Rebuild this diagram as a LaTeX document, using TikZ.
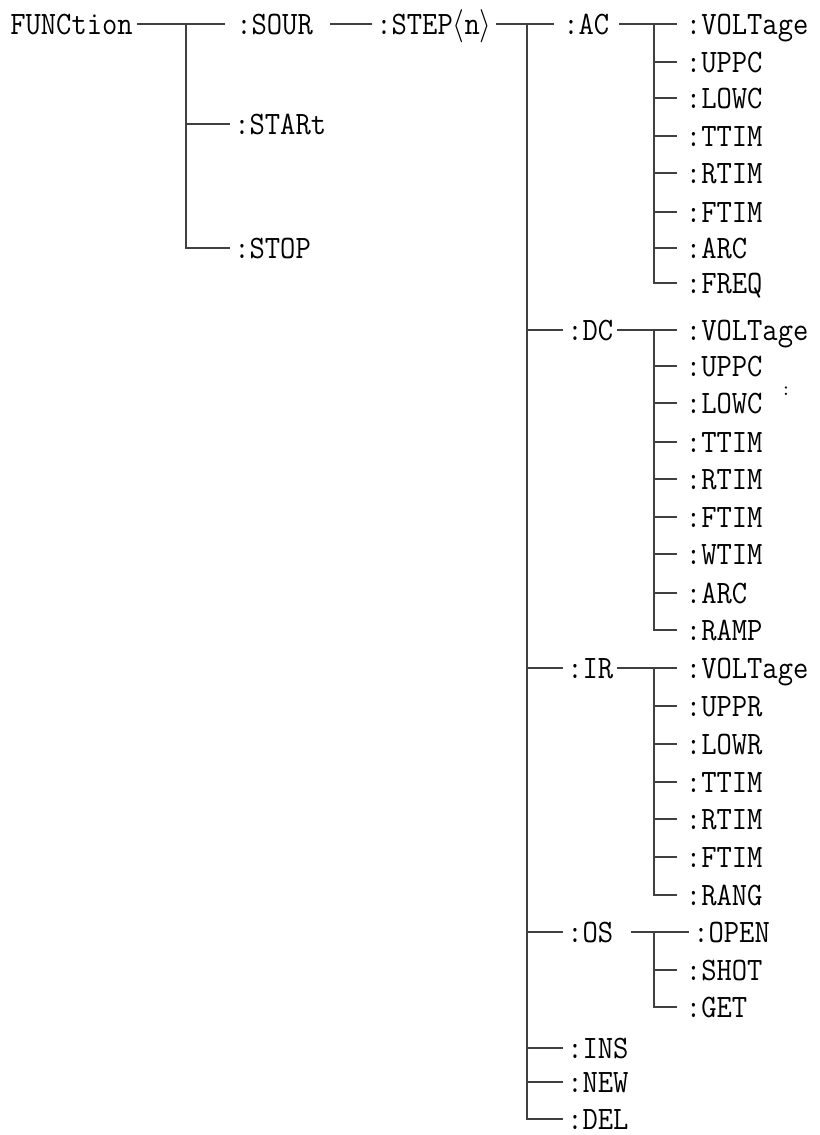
\documentclass[tikz,border=0pt]{standalone}
\usepackage{tikz}
\newcommand{\sq}[1]{\scalebox{0.91}[1]{#1}}

\begin{document}
\begin{tikzpicture}[x=0.75pt, y=-0.75pt,
	cmd/.style={anchor=west, inner xsep=3pt, inner ysep=0pt, text height=15pt,
		text depth=0pt, font=\ttfamily\fontsize{24.5}{28}\selectfont},
	leaf/.style={cmd, inner xsep=6.5pt},
	lnk/.style={draw=black!75, line width=0.8pt}]
	\useasboundingbox (0,0) rectangle (820,1135);
	% root
	\node[cmd] (FUNC) at (6,24) {\sq{FUNCtion}};
	\coordinate (j0) at (186,24);
	\node[cmd] (SOUR) at (232,24) {\sq{:SOUR}};
	\node[cmd] (STARt) at (230,124) {\sq{:STARt}};
	\node[cmd] (STOP) at (230,248) {\sq{:STOP}};
	\draw[lnk, shorten >=5pt] (FUNC) -- (SOUR);
	\draw[lnk] (j0) |- (STARt.west);
	\draw[lnk] (j0) |- (STOP.west);
	% step
	\node[cmd] (STEP) at (372,24) {\sq{:STEP$\langle$n$\rangle$}};
	\draw[lnk, shorten <=10pt] (SOUR) -- (STEP);
	\coordinate (j1) at (527,24);
	\node[cmd] (AC) at (559,24) {\sq{:AC}};
	\node[cmd] (DC) at (563,330) {\sq{:DC}};
	\node[cmd] (IR) at (563,668) {\sq{:IR}};
	\node[cmd] (OS) at (563,932) {\sq{:OS}};
	\node[cmd] (INS) at (563,1048) {\sq{:INS}};
	\node[cmd] (NEW) at (563,1082) {\sq{:NEW}};
	\node[cmd] (DEL) at (563,1119) {\sq{:DEL}};
	\draw[lnk, shorten >=4pt] (STEP) -- (AC);
	\foreach \n in {DC,IR,OS,INS,NEW,DEL}
		\draw[lnk] (j1) |- (\n.west);
	% AC
	\coordinate (jAC) at (654,24);
	\draw[lnk, shorten <=4pt] (AC) -- (jAC);
	\foreach \y/\t [count=\i] in {24/VOLTage, 62/UPPC, 98/LOWC, 136/TTIM,
		173/RTIM, 212/FTIM, 248/ARC, 283/FREQ} {
		\node[leaf] (ac\i) at (677,\y) {\sq{:\t}};
		\draw[lnk] (jAC) |- (ac\i.west);
	}
	% DC
	\coordinate (jDC) at (654,330);
	\draw[lnk] (DC) -- (jDC);
	\foreach \y/\t [count=\i] in {330/VOLTage, 366/UPPC, 403/LOWC, 442/TTIM,
		479/RTIM, 517/FTIM, 554/WTIM, 593/ARC, 630/RAMP} {
		\node[leaf] (dc\i) at (677,\y) {\sq{:\t}};
		\draw[lnk] (jDC) |- (dc\i.west);
	}
	\node[inner sep=0pt, font=\ttfamily\fontsize{15}{17}\selectfont] (dot) at (786,391) {:};
	% IR
	\coordinate (jIR) at (654,668);
	\draw[lnk] (IR) -- (jIR);
	\foreach \y/\t [count=\i] in {668/VOLTage, 706/UPPR, 744/LOWR, 782/TTIM,
		819/RTIM, 857/FTIM, 895/RANG} {
		\node[leaf] (ir\i) at (677,\y) {\sq{:\t}};
		\draw[lnk] (jIR) |- (ir\i.west);
	}
	% OS
	\coordinate (jOS) at (654,932);
	\node[cmd] (os1) at (689,932) {\sq{:OPEN}};
	\node[leaf] (os2) at (677,970) {\sq{:SHOT}};
	\node[leaf] (os3) at (677,1007) {\sq{:GET}};
	\draw[lnk, shorten <=10pt] (OS) -- (os1);
	\draw[lnk] (jOS) |- (os2.west);
	\draw[lnk] (jOS) |- (os3.west);
\end{tikzpicture}
\end{document}
